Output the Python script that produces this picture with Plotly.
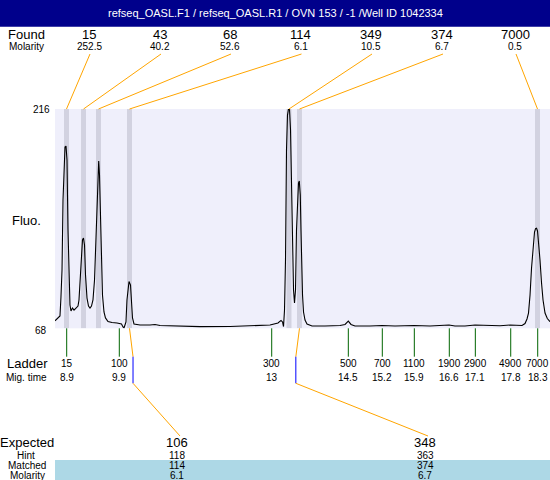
import numpy as np
import plotly.graph_objects as go

W, H = 550, 480

title_text = "refseq_OASL.F1 / refseq_OASL.R1 / OVN 153 / -1 /Well ID 1042334"

# Found peaks
found_sizes = [15, 43, 68, 114, 349, 374, 7000]
found_molarity = ["252.5", "40.2", "52.6", "6.1", "10.5", "6.7", "0.5"]
found_times = [8.872, 9.214, 9.515, 10.138, 13.342, 13.553, 18.335]

# Ladder
ladder_sizes = [15, 100, 300, 500, 700, 1100, 1900, 2900, 4900, 7000]
ladder_times = [8.876, 9.933, 12.995, 14.534, 15.217, 15.860, 16.563, 17.086, 17.797, 18.339]
ladder_time_labels = ["8.9", "9.9", "13", "14.5", "15.2", "15.9", "16.6", "17.1", "17.8", "18.3"]

# Expected table
expected_sizes = [106, 348]
hint_sizes = [118, 363]
matched_sizes = [114, 374]
matched_molarity = ["6.1", "6.7"]

fluo_ticks = [68, 216]

# Electropherogram
mig_time = [8.641, 8.707, 8.741, 8.761, 8.782, 8.802, 8.822, 8.842, 8.862, 8.882,
            8.902, 8.922, 8.942, 8.962, 8.992, 9.023, 9.063, 9.103, 9.123, 9.143,
            9.173, 9.193, 9.213, 9.234, 9.254, 9.284, 9.314, 9.344, 9.374, 9.404,
            9.435, 9.465, 9.485, 9.505, 9.519, 9.535, 9.555, 9.575, 9.595, 9.625,
            9.655, 9.706, 9.786, 9.887, 9.977, 10.007, 10.027, 10.047, 10.067, 10.087,
            10.108, 10.128, 10.158, 10.178, 10.198, 10.228, 10.349, 10.550, 10.650, 10.751,
            10.951, 11.554, 12.157, 12.760, 12.961, 13.121, 13.182, 13.212, 13.232, 13.252,
            13.272, 13.292, 13.312, 13.332, 13.352, 13.373, 13.389, 13.403, 13.419, 13.433,
            13.453, 13.473, 13.493, 13.513, 13.533, 13.549, 13.569, 13.583, 13.599, 13.614,
            13.634, 13.664, 13.704, 13.805, 14.066, 14.367, 14.468, 14.534, 14.588, 14.668,
            14.970, 15.211, 15.472, 15.854, 16.175, 16.557, 16.677, 16.878, 17.079, 17.381,
            17.582, 17.783, 17.923, 18.024, 18.084, 18.124, 18.154, 18.185, 18.215, 18.245,
            18.275, 18.295, 18.315, 18.335, 18.355, 18.385, 18.416, 18.446, 18.486, 18.532,
            18.586]
fluorescence = [73.1, 75.0, 76.3, 89.1, 107.3, 154.6, 181.6, 190.3, 191.0, 181.6,
                134.3, 93.8, 83.7, 79.7, 81.7, 80.3, 81.7, 83.0, 87.1, 100.6,
                120.8, 127.6, 128.9, 124.2, 104.0, 88.4, 83.0, 81.7, 83.0, 87.1,
                100.6, 134.3, 158.0, 178.2, 180.9, 171.4, 141.1, 110.7, 90.5, 79.0,
                75.0, 72.6, 71.9, 71.6, 70.9, 68.9, 68.2, 70.2, 72.3, 87.1,
                97.2, 99.6, 97.2, 87.1, 75.0, 70.9, 70.2, 70.2, 70.6, 69.9,
                69.6, 69.1, 69.2, 69.6, 70.2, 71.6, 73.3, 72.3, 69.2, 80.3,
                114.1, 188.3, 211.9, 216.0, 216.0, 201.8, 171.4, 134.3, 107.3, 93.8,
                85.1, 93.8, 134.3, 154.6, 166.0, 167.4, 158.0, 134.3, 107.3, 90.5,
                79.0, 73.6, 70.9, 69.6, 69.6, 69.9, 70.6, 72.9, 70.6, 69.6,
                69.6, 69.9, 69.6, 69.9, 69.6, 70.2, 69.6, 69.6, 70.2, 69.9,
                69.7, 70.2, 69.9, 69.9, 71.2, 74.3, 78.3, 90.5, 108.7, 124.2,
                133.0, 135.3, 135.5, 133.7, 127.6, 114.1, 98.6, 87.1, 78.3, 74.6,
                72.5]
assert len(mig_time) == len(fluorescence)

# ---------------- layout constants (pixels) ----------------
X_RANGE = [8.641, 18.586]
PLOT_L, PLOT_R, PLOT_T, PLOT_B = 55, 550, 109, 328.3
found_cols_px = [89, 160, 230, 300.5, 371, 442, 515]
expected_cols_px = [177, 425]
FONT = "Liberation Sans, Arial, Helvetica, sans-serif"
ORANGE = "#FFA500"
BAND = "#D2D2E0"
BG = "#EFEFFB"
ROW_EXP, ROW_HINT, ROW_MATCH, ROW_MOL = 442, 455.5, 465.8, 475.3


def pxx(x):
    return x / W


def pxy(y):
    return 1 - y / H


def px_to_time(x):
    return X_RANGE[0] + (x - PLOT_L) / (PLOT_R - PLOT_L) * (X_RANGE[1] - X_RANGE[0])


fig = go.Figure()
fig.add_trace(go.Scatter(x=mig_time, y=fluorescence, mode="lines",
                         line=dict(color="black", width=1.1), hoverinfo="skip"))

shapes = []
annotations = []


def text(x, y, s, size, color="black", xref="paper"):
    annotations.append(dict(x=x, y=y, xref=xref, yref="paper", text=s, showarrow=False,
                            xanchor="center", yanchor="middle", borderpad=0,
                            font=dict(family=FONT, size=size, color=color)))


# title bar
shapes.append(dict(type="rect", xref="paper", yref="paper", x0=0, x1=1, y0=pxy(26.7), y1=1,
                   fillcolor="#00008B", line=dict(width=0), layer="below"))
text(0.5, pxy(13.5), title_text, 11, "white")

# matched band at bottom
shapes.append(dict(type="rect", xref="paper", yref="paper", x0=pxx(55), x1=1, y0=0, y1=pxy(460),
                   fillcolor="#ADD8E6", line=dict(width=0), layer="below"))

# peak bands
for t in found_times:
    shapes.append(dict(type="rect", xref="x", yref="y", x0=t - 0.05, x1=t + 0.05,
                       y0=fluo_ticks[0], y1=fluo_ticks[1], fillcolor=BAND,
                       line=dict(width=0), layer="below"))

# found labels and connectors
text(pxx(26), pxy(34.3), "Found", 13)
text(pxx(26.5), pxy(46.7), "Molarity", 10)
for cx, s, m, t in zip(found_cols_px, found_sizes, found_molarity, found_times):
    text(pxx(cx), pxy(34.3), str(s), 13)
    text(pxx(cx), pxy(46.7), m, 10)
    shapes.append(dict(type="line", xref="x", yref="paper", x0=px_to_time(cx + 1), y0=pxy(54),
                       x1=t, y1=pxy(PLOT_T), line=dict(color=ORANGE, width=1)))

# y labels
text(pxx(26.7), pxy(220.7), "Fluo.", 13)
text(pxx(41), pxy(110), str(fluo_ticks[1]), 10)
text(pxx(41), pxy(330), str(fluo_ticks[0]), 10)

# ladder
text(pxx(27), pxy(363.3), "Ladder", 13)
text(pxx(26.7), pxy(377.3), "Mig. time", 10)
for s, t, lab in zip(ladder_sizes, ladder_times, ladder_time_labels):
    shapes.append(dict(type="line", xref="x", yref="paper", x0=t, x1=t,
                       y0=pxy(PLOT_B), y1=pxy(356.7), line=dict(color="#006400", width=1)))
    text(t, pxy(363.3), str(s), 10, xref="x")
    text(t, pxy(377.3), lab, 10, xref="x")

# expected table
text(pxx(27), pxy(ROW_EXP), "Expected", 13)
text(pxx(26), pxy(ROW_HINT), "Hint", 10)
text(pxx(26.7), pxy(ROW_MATCH), "Matched", 10)
text(pxx(27), pxy(ROW_MOL), "Molarity", 10)
for cx, e, h, m, mm in zip(expected_cols_px, expected_sizes, hint_sizes, matched_sizes, matched_molarity):
    text(pxx(cx), pxy(ROW_EXP), str(e), 13)
    text(pxx(cx), pxy(ROW_HINT), str(h), 10)
    text(pxx(cx), pxy(ROW_MATCH), str(m), 10)
    text(pxx(cx), pxy(ROW_MOL), mm, 10)
    t_peak = found_times[found_sizes.index(m)]
    t_hint = float(np.interp(h, ladder_sizes, ladder_times))
    shapes.append(dict(type="line", xref="x", yref="paper", x0=t_peak, y0=pxy(PLOT_B),
                       x1=t_hint, y1=pxy(356.7), line=dict(color=ORANGE, width=1)))
    shapes.append(dict(type="line", xref="x", yref="paper", x0=t_hint, y0=pxy(356.7),
                       x1=t_hint, y1=pxy(383.3), line=dict(color="#0000FF", width=1)))
    shapes.append(dict(type="line", xref="x", yref="paper", x0=t_hint, y0=pxy(383.3),
                       x1=px_to_time(cx + 3), y1=pxy(436), line=dict(color=ORANGE, width=1)))

fig.update_layout(
    width=W, height=H,
    margin=dict(l=0, r=0, t=0, b=0, pad=0),
    paper_bgcolor="white", plot_bgcolor=BG,
    showlegend=False,
    xaxis=dict(visible=False, range=X_RANGE, domain=[PLOT_L / W, 1], fixedrange=True),
    yaxis=dict(visible=False, range=fluo_ticks, domain=[pxy(PLOT_B), pxy(PLOT_T)], fixedrange=True),
    shapes=shapes, annotations=annotations,
)

fig.write_html("out.html", config={"displayModeBar": False},
               post_script="document.body.style.margin='0';")
